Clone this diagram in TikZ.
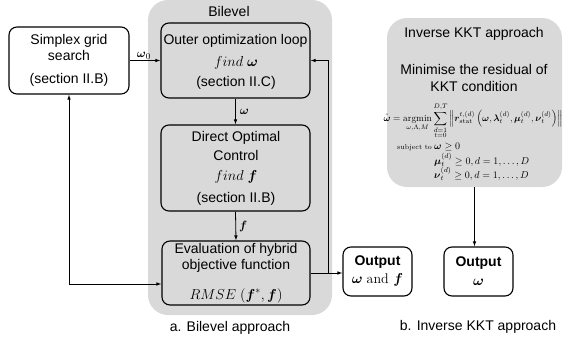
\documentclass[tikz,border=0pt]{standalone}
\usepackage{amsmath}
\usepackage{graphicx}
\usepackage{fontspec}
\newfontfamily\arial{Liberation Sans}
\usetikzlibrary{arrows.meta}
\definecolor{bggray}{RGB}{217,217,217}
\begin{document}
\begin{tikzpicture}[x=1pt,y=-1pt,
  bg/.style={fill=bggray, draw=none, rounded corners=20pt, inner sep=0pt},
  box/.style={draw, line width=1.1pt, rounded corners=8pt, inner sep=0pt},
  txt/.style={font=\arial\fontsize{14}{16}\selectfont, inner sep=0pt, text height=10pt, text depth=3pt},
  btxt/.style={txt, font=\arial\bfseries\fontsize{14}{16}\selectfont},
  frm/.style={font=\fontsize{10}{12}\selectfont, inner sep=0pt, anchor=base west},
  sml/.style={font=\fontsize{7}{9}\selectfont, inner sep=0pt, anchor=base west},
  lbl/.style={font=\fontsize{13}{15}\selectfont, inner sep=1pt},
  arr/.style={-{Latex[length=5pt,width=3.6pt]}, line width=0.8pt},
  darr/.style={{Latex[length=5pt,width=3.6pt]}-{Latex[length=5pt,width=3.6pt]}, line width=0.8pt},
]
\useasboundingbox (0,0) rectangle (566,343);

% backgrounds
\node[bg, minimum width=184pt, minimum height=315pt] (bilevel) at (240,157.5) {};
\node[bg, minimum width=175pt, minimum height=169pt] (kkt) at (474.5,102.5) {};

% boxes
\node[box, minimum width=149pt, minimum height=75pt] (outer) at (235.5,60.5) {};
\node[box, minimum width=149pt, minimum height=86pt] (doc) at (235.5,168) {};
\node[box, minimum width=148pt, minimum height=64pt] (eval) at (236,273) {};
\node[box, minimum width=120pt, minimum height=67pt] (simplex) at (69,60.5) {};
\node[box, minimum width=69pt, minimum height=49pt] (out1) at (377.5,271.5) {};
\node[box, minimum width=69pt, minimum height=49pt] (out2) at (478.5,271.5) {};

% texts
\node[txt] (tbil) at (229,13) {Bilevel};
\node[txt] (to1) at (235.5,41) {Outer optimization loop};
\node[txt] (to2) at (236,63) {$find\ \boldsymbol{\omega}$};
\node[txt] (to3) at (236,83) {(section II.C)};

\node[txt] (td1) at (236,138) {Direct Optimal};
\node[txt] (td2) at (236,157) {Control};
\node[txt] (td3) at (236,177) {$find\ \boldsymbol{f}$};
\node[txt] (td4) at (236,199) {(section II.B)};

\node[txt] (te1) at (236,250) {Evaluation of hybrid};
\node[txt] (te2) at (236,266) {objective function};
\node[txt] (te3) at (236,296) {$RMSE\ (\boldsymbol{f}^{*}, \boldsymbol{f})$};

\node[txt] (ts1) at (69,41) {Simplex grid};
\node[txt] (ts2) at (69,57) {search};
\node[txt] (ts3) at (69,80) {(section II.B)};

\node[btxt] (tp1) at (377.5,262) {Output};
\node[txt] (tp2) at (377.5,280) {$\boldsymbol{\omega}$ \rmfamily and $\boldsymbol{f}$};
\node[btxt] (tq1) at (478.5,263) {Output};
\node[txt] (tq2) at (478.5,282) {$\boldsymbol{\omega}$};

\node[txt] (tk1) at (474,34) {Inverse KKT approach};
\node[txt] (tk2) at (474,71) {Minimise the residual of};
\node[txt] (tk3) at (474,88) {KKT condition};

\node[inner sep=0pt, anchor=base] (form) at (473,121) {\resizebox{179pt}{!}{$\displaystyle \hat{\boldsymbol{\omega}} = \operatorname*{argmin}_{\omega,\Lambda,M} \sum_{\substack{d=1\\t=0}}^{D,T} \left\| \boldsymbol{r}_{\mathrm{stat}}^{t,(d)}\left(\boldsymbol{\omega}, \boldsymbol{\lambda}_t^{(d)}, \boldsymbol{\mu}_t^{(d)}, \boldsymbol{\nu}_t^{(d)}\right)\right\|$}};
\node[sml] (c0) at (397,149) {subject to};
\node[frm] (c1) at (434,149) {$\boldsymbol{\omega} \ge 0$};
\node[frm] (c2) at (434,164) {$\boldsymbol{\mu}_t^{(d)} \ge 0, d = 1, \dots, D$};
\node[frm] (c3) at (434,178) {$\boldsymbol{\nu}_t^{(d)} \ge 0, d = 1, \dots, D$};

\node[txt] (cap1) at (230,328) {a. Bilevel approach};
\node[txt] (cap2) at (478,327) {b. Inverse KKT approach};

% connectors
\coordinate (fbx) at (328,0);
\coordinate (evin) at ([yshift=-11pt]eval.west);
\draw[arr] (simplex.east) -- node[lbl, above, xshift=-1pt] (lw0) {$\boldsymbol{\omega}_0$} (outer.west);
\draw[arr] (outer.south) -- node[lbl, right, xshift=3pt] (lw) {$\boldsymbol{\omega}$} (doc.north);
\draw[arr] (doc.south) -- node[lbl, right, xshift=2pt] (lf) {$\boldsymbol{f}$} (eval.north);
\draw[arr] (eval.east) -- (eval.east -| out1.west);
\draw[arr] (eval.east -| fbx) |- (outer.east);
\draw[darr] (simplex.south) |- (evin);
\draw[arr] (kkt.south) -- (kkt.south |- out2.north);
\end{tikzpicture}
\end{document}
